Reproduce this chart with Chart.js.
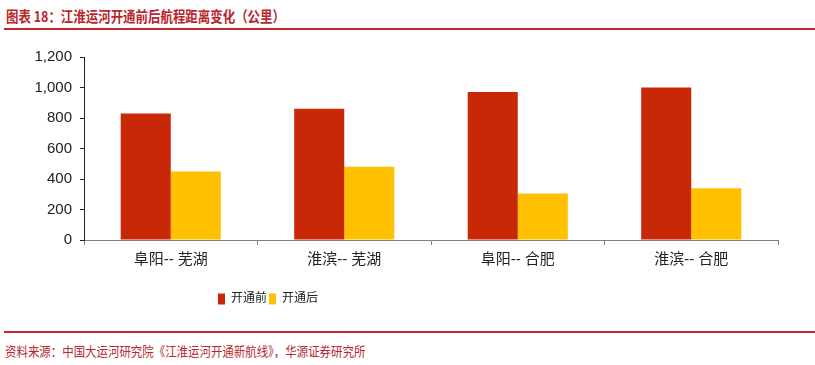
<!DOCTYPE html>
<html>
<head>
<meta charset="utf-8">
<script src="https://cdn.jsdelivr.net/npm/chart.js@4"></script>
<style>
  html, body { margin: 0; padding: 0; background: #fff; }
  body { width: 815px; height: 365px; position: relative; overflow: hidden; }
  #title {
    position: absolute; left: 6px; top: 5px;
    font-family: "Noto Sans CJK SC", sans-serif; font-size: 15px; font-weight: bold;
    color: #B8262E; white-space: nowrap;
    transform: scaleX(0.83); transform-origin: left top;
  }
  #source {
    position: absolute; left: 5px; top: 341px;
    font-family: "Noto Sans CJK SC", sans-serif; font-size: 13px;
    color: #B8262E; white-space: nowrap;
    transform: scaleX(0.88); transform-origin: left top;
  }
  .rule { position: absolute; left: 4px; right: 0; height: 2px; background: #C0282E; }
  #chartBox { position: absolute; left: 0; top: 0; width: 815px; height: 320px; }
</style>
</head>
<body>
<div id="title">图表 18：江淮运河开通前后航程距离变化（公里）</div>
<div class="rule" style="top:28px"></div>
<div id="chartBox"><canvas id="barChart"></canvas></div>
<div class="rule" style="top:331px"></div>
<div id="source">资料来源：中国大运河研究院《江淮运河开通新航线》，华源证券研究所</div>
<script>
// 数据
const categorias = ["阜阳-- 芜湖", "淮滨-- 芜湖", "阜阳-- 合肥", "淮滨-- 合肥"];
const antes = [830, 860, 970, 1000];
const despues = [450, 480, 305, 340];
const series = ["开通前", "开通后"];

const fuente = ["Liberation Sans", "Noto Sans CJK SC", "sans-serif"].join(", ");

// mover la leyenda a la izquierda y abajo como en el original
const moverLeyenda = {
    id: "moverLeyenda",
    afterLayout(chart) {
        const l = chart.legend;
        l.left = 216;
        l.right = 460;
        l.top = 291;
        l.bottom = 307;
    },
};

new Chart(document.getElementById("barChart").getContext("2d"), {
    type: "bar",
    data: {
        labels: categorias,
        datasets: [
            { label: series[0], data: antes, backgroundColor: "#C82807" },
            { label: series[1], data: despues, backgroundColor: "#FFC000" },
        ],
    },
    options: {
        responsive: true,
        maintainAspectRatio: false,
        animation: false,
        datasets: { bar: { categoryPercentage: 0.577, barPercentage: 1 } },
        layout: { padding: { top: 57, left: 30, right: 37, bottom: 16 } },
        plugins: {
            tooltip: { enabled: false },
            legend: {
                position: "bottom",
                align: "start",
                labels: {
                    boxWidth: 7,
                    boxHeight: 11,
                    padding: 2,
                    color: "#222",
                    font: { family: fuente, size: 12 },
                },
            },
        },
        scales: {
            x: {
                afterFit: (s) => { s.height = 40; },
                grid: { drawOnChartArea: false, drawTicks: true, tickLength: 5, color: "#808080" },
                border: { color: "#808080" },
                ticks: { color: "#222", padding: 6, font: { family: fuente, size: 15 } },
            },
            y: {
                min: 0,
                max: 1200,
                afterFit: (s) => { s.width = 54; },
                grid: { drawOnChartArea: false, drawTicks: true, tickLength: 4, color: "#222" },
                border: { color: "#222" },
                ticks: {
                    stepSize: 200,
                    color: "#222",
                    padding: 8,
                    font: { family: fuente, size: 15 },
                    callback: (v) => v.toLocaleString("en-US"),
                },
            },
        },
    },
    plugins: [moverLeyenda],
});
</script>
</body>
</html>
